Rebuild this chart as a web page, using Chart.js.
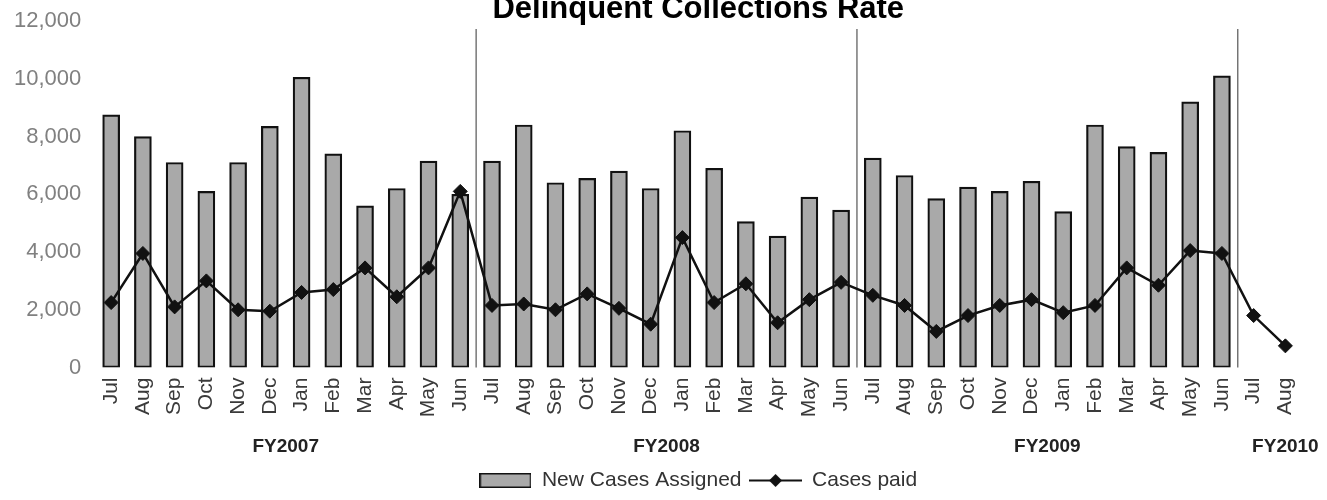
<!DOCTYPE html>
<html><head><meta charset="utf-8">
<script src="https://cdn.jsdelivr.net/npm/chart.js@4.4.1/dist/chart.umd.min.js"></script>
<style>
html,body{margin:0;padding:0;background:#fff;overflow:hidden;width:1327px;height:500px}
#wrap{position:absolute;left:0;top:-9px;width:1327px;height:510px}
</style>
</head><body><div id="wrap"><canvas id="c" width="1327" height="510"></canvas></div>
<script>
// ---- data ----
const months = ['Jul','Aug','Sep','Oct','Nov','Dec','Jan','Feb','Mar','Apr','May','Jun',
                'Jul','Aug','Sep','Oct','Nov','Dec','Jan','Feb','Mar','Apr','May','Jun',
                'Jul','Aug','Sep','Oct','Nov','Dec','Jan','Feb','Mar','Apr','May','Jun',
                'Jul','Aug'];
const newCasesAssigned = [8750,8000,7100,6100,7100,8350,10050,7400,5600,6200,7150,6000,
                          7150,8400,6400,6550,6800,6200,8200,6900,5050,4550,5900,5450,
                          7250,6650,5850,6250,6100,6450,5400,8400,7650,7450,9200,10100,
                          null,null];
const casesPaid = [2250,3950,2100,3000,2000,1950,2600,2700,3450,2450,3450,6100,
                   2150,2200,2000,2550,2050,1500,4500,2250,2900,1550,2350,2950,
                   2500,2150,1250,1800,2150,2350,1900,2150,3450,2850,4050,3950,
                   1800,750];
const fiscalYears = ['FY2007','FY2008','FY2009','FY2010'];
const fiscalYearStart = [0,12,24,36];
const yTicks = [0,2000,4000,6000,8000,10000,12000];

const FONT = "'Liberation Sans', Arial, sans-serif";
const lastIndex = months.length - 1;
const fyCenters = fiscalYearStart.map(s => Math.min(s + 5.5, lastIndex));

// legend symbols
function makeSwatch() {
  const c = document.createElement('canvas'); c.width = 52; c.height = 15;
  const g = c.getContext('2d');
  g.fillStyle = '#a9a9a9'; g.fillRect(1, 1, 50, 13);
  g.strokeStyle = '#111'; g.lineWidth = 1.5; g.strokeRect(0.75, 0.75, 50.5, 13.5);
  return c;
}
function makeLineSym() {
  const c = document.createElement('canvas'); c.width = 53; c.height = 15;
  const g = c.getContext('2d');
  g.strokeStyle = '#111'; g.lineWidth = 2;
  g.beginPath(); g.moveTo(0, 7.5); g.lineTo(53, 7.5); g.stroke();
  g.fillStyle = '#111';
  g.beginPath(); g.moveTo(26.5, 1); g.lineTo(33, 7.5); g.lineTo(26.5, 14); g.lineTo(20, 7.5); g.closePath(); g.fill();
  return c;
}
const swatchImg = makeSwatch();
const lineImg = makeLineSym();

const separatorPlugin = {
  id: 'fySeparators',
  beforeDatasetsDraw(chart) {
    const x = chart.scales.x, area = chart.chartArea, ctx = chart.ctx;
    ctx.save();
    ctx.strokeStyle = '#555'; ctx.lineWidth = 1.2;
    fiscalYearStart.slice(1).forEach(s => {
      const px = (x.getPixelForValue(s - 1) + x.getPixelForValue(s)) / 2;
      ctx.beginPath(); ctx.moveTo(px, area.top + 8); ctx.lineTo(px, area.bottom); ctx.stroke();
    });
    ctx.restore();
  }
};

new Chart(document.getElementById('c'), {
  data: {
    labels: months,
    datasets: [
      { type: 'line', label: 'Cases paid', data: casesPaid, order: 0,
        borderColor: '#111', borderWidth: 2.5, tension: 0,
        pointStyle: 'rectRot', pointRadius: 7, pointBackgroundColor: '#111', pointBorderColor: '#111', pointBorderWidth: 1 },
      { type: 'bar', label: 'New Cases Assigned', data: newCasesAssigned, order: 1,
        backgroundColor: '#a9a9a9', borderColor: '#111', borderWidth: 2.2, barThickness: 17, borderSkipped: false }
    ]
  },
  options: {
    responsive: false, animation: false, devicePixelRatio: 1,
    layout: { padding: { left: 0, right: 18, top: 0, bottom: 0 } },
    scales: {
      x: {
        offset: true,
        grid: { display: false, drawTicks: false }, border: { display: false },
        ticks: { autoSkip: false, maxRotation: 90, minRotation: 90, padding: 10,
                 color: '#3a3a3a', font: { family: FONT, size: 21 } }
      },
      fy: {
        type: 'linear', position: 'bottom', min: -0.5, max: lastIndex + 0.5,
        grid: { display: false, drawTicks: false }, border: { display: false },
        afterBuildTicks: s => { s.ticks = fyCenters.map(v => ({ value: v })); },
        afterFit: s => { s.height -= 4; },
        ticks: { autoSkip: false, maxRotation: 0, padding: 8, color: '#222',
                 font: { family: FONT, size: 19, weight: 'bold' },
                 callback: (v, i) => fiscalYears[i] }
      },
      y: {
        min: 0, max: 12000,
        grid: { display: false, drawTicks: false }, border: { display: false },
        afterBuildTicks: s => { s.ticks = yTicks.map(v => ({ value: v })); },
        ticks: { padding: 14, color: '#808080', font: { family: FONT, size: 22 },
                 callback: v => v.toLocaleString('en-US') }
      }
    },
    plugins: {
      title: { display: true, fullSize: false, text: 'Delinquent Collections Rate', color: '#000',
               font: { family: FONT, size: 31, weight: 'bold', lineHeight: 1 }, padding: { top: 3, bottom: -4 } },
      legend: {
        position: 'bottom', fullSize: false,
        labels: {
          usePointStyle: true, pointStyleWidth: 52, padding: 8,
          color: '#333', font: { family: FONT, size: 21 },
          generateLabels: chart => [
            { text: chart.data.datasets[1].label, pointStyle: swatchImg, datasetIndex: 1,
              lineWidth: 0, strokeStyle: 'rgba(0,0,0,0)', fillStyle: 'rgba(0,0,0,0)', fontColor: '#333', hidden: false },
            { text: chart.data.datasets[0].label, pointStyle: lineImg, datasetIndex: 0,
              lineWidth: 0, strokeStyle: 'rgba(0,0,0,0)', fillStyle: 'rgba(0,0,0,0)', fontColor: '#333', hidden: false }
          ]
        }
      },
      tooltip: { enabled: false }
    }
  },
  plugins: [separatorPlugin]
});
</script></body></html>
